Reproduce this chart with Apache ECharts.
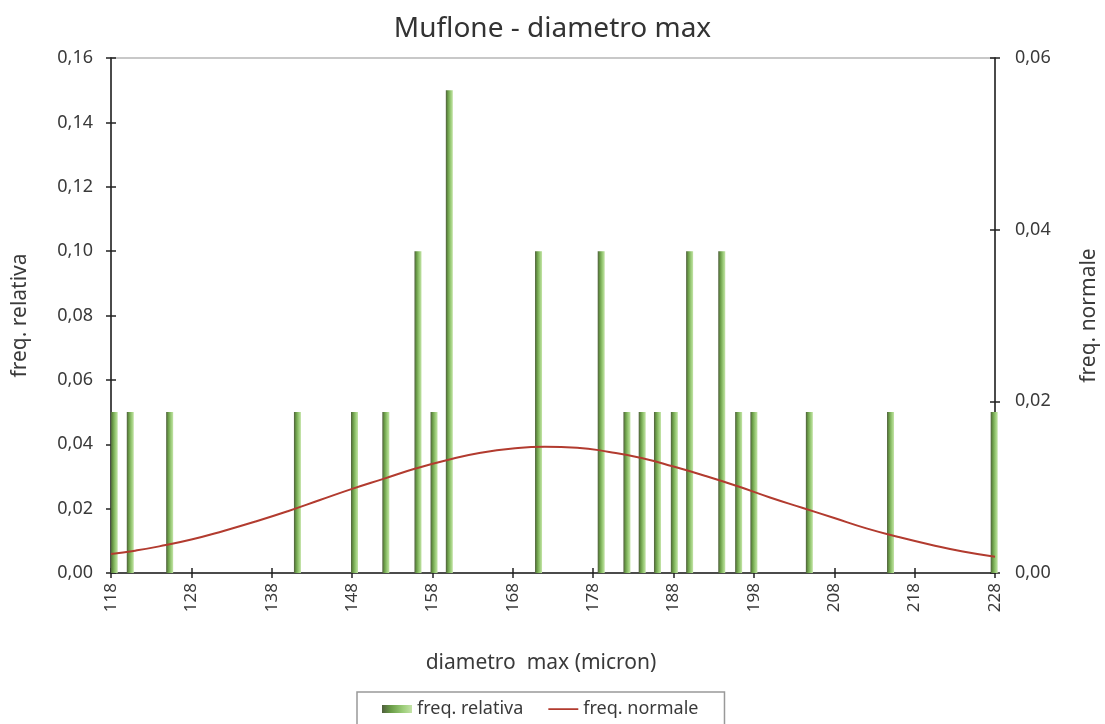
<!DOCTYPE html>
<html><head><meta charset="utf-8">
<script src="https://cdn.jsdelivr.net/npm/echarts@6/dist/echarts.min.js"></script>
<style>html,body{margin:0;padding:0;background:#fff}#c{width:1105px;height:724px}</style>
</head><body><div id="c"></div>
<script>
// bar positions (diameter, micron) and relative frequencies
const diameters = [118.4, 120.4, 125.3, 141.2, 148.3, 152.2, 156.2, 158.2, 160.1, 171.2, 179, 182.2, 184.1, 186, 188.1, 190, 194, 196.1, 198, 204.9, 215, 227.9];
const freqRelativa = [0.05, 0.05, 0.05, 0.05, 0.05, 0.05, 0.10, 0.05, 0.15, 0.10, 0.10, 0.05, 0.05, 0.05, 0.05, 0.10, 0.10, 0.05, 0.05, 0.05, 0.05, 0.05];
// normal curve
const curveX = [118, 121, 124, 128, 132, 136, 140, 144, 148, 152, 156, 160, 164, 168, 172, 176, 180, 184, 188, 192, 196, 200, 204, 208, 212, 216, 220, 224, 228];
const freqNormale = [0.0022, 0.0026, 0.0031, 0.0039, 0.0049, 0.0060, 0.0072, 0.0085, 0.0098, 0.0110, 0.0122, 0.0132, 0.0140, 0.0145, 0.0147, 0.0146, 0.0141, 0.0134, 0.0124, 0.0113, 0.0101, 0.0088, 0.0076, 0.0064, 0.0052, 0.0042, 0.0033, 0.0025, 0.0019];
const xTicks = [118, 128, 138, 148, 158, 168, 178, 188, 198, 208, 218, 228];

const FONT = 'Noto Sans';
const TXT = '#3a3a3a';
const fmt = v => v.toFixed(2).replace('.', ',');
const chart = echarts.init(document.getElementById('c'));
const barColor = new echarts.graphic.LinearGradient(0, 0, 1, 0, [
  {offset: 0, color: '#4f5e3c'},
  {offset: 0.3, color: '#6a9c47'},
  {offset: 0.7, color: '#9ccd79'},
  {offset: 1, color: '#c4e3a8'}
]);
const lineIcon = 'path://M0,3.2h30v1.8h-30z M0,0h0.01v0.01h-0.01z M0,8h0.01v0.01h-0.01z';
const axisLine = {lineStyle: {color: '#222', width: 1.5}};
const tickStyle = {color: '#222', width: 1.5};
chart.setOption({
  animation: false,
  backgroundColor: '#fff',
  textStyle: {fontFamily: FONT},
  title: {
    text: 'Muflone - diametro max', left: 'center', top: 10,
    textStyle: {fontFamily: FONT, fontSize: 28, fontWeight: 'normal', color: '#333'},
    padding: [5, 15, 5, 5]
  },
  grid: {left: 111, right: 110, top: 58, bottom: 151, outerBoundsMode: 'none', containLabel: false,
         show: true, borderColor: '#c8c8c8', borderWidth: 2, backgroundColor: 'transparent'},
  legend: {
    top: 692, left: 357,
    padding: [8, 26, 12, 25],
    borderColor: '#999', borderWidth: 1.5, backgroundColor: '#fff',
    itemGap: 25, itemWidth: 30, itemHeight: 8,
    textStyle: {fontFamily: FONT, fontSize: 18, color: TXT},
    data: [{name: 'freq. relativa', icon: 'rect'}, {name: 'freq. normale', icon: lineIcon}]
  },
  xAxis: [{
    type: 'value', min: 118, max: 228,
    name: 'diametro  max (micron)', nameLocation: 'middle', nameGap: 80,
    nameTextStyle: {fontFamily: FONT, fontSize: 21, color: TXT, padding: [0, 24, 0, 0]},
    axisLine: axisLine,
    axisTick: {customValues: xTicks, length: 5, lineStyle: tickStyle},
    axisLabel: {customValues: xTicks, rotate: 90, margin: 10, fontSize: 17, color: TXT, fontFamily: FONT},
    splitLine: {show: false}
  }, {
    type: 'value', min: 118, max: 228, position: 'bottom',
    axisLine: {show: false},
    axisTick: {customValues: xTicks, inside: true, length: 5, lineStyle: tickStyle},
    axisLabel: {show: false}, splitLine: {show: false}
  }],
  yAxis: [{
    type: 'value', min: 0, max: 0.16, interval: 0.02,
    name: 'freq. relativa', nameLocation: 'middle', nameGap: 80, nameRotate: 90,
    nameTextStyle: {fontFamily: FONT, fontSize: 21, color: TXT},
    axisLine: Object.assign({show: true}, axisLine),
    axisTick: {show: true, length: 5, lineStyle: tickStyle},
    axisLabel: {formatter: fmt, fontSize: 18, color: TXT, margin: 18, fontFamily: FONT},
    splitLine: {show: false}
  }, {
    type: 'value', min: 0, max: 0.06, interval: 0.02, position: 'right',
    name: 'freq. normale', nameLocation: 'middle', nameGap: 84, nameRotate: 90,
    nameTextStyle: {fontFamily: FONT, fontSize: 21, color: TXT},
    axisLine: Object.assign({show: true}, axisLine),
    axisTick: {show: true, length: 5, lineStyle: tickStyle},
    axisLabel: {formatter: fmt, fontSize: 18, color: TXT, margin: 20, fontFamily: FONT},
    splitLine: {show: false}
  }, {
    type: 'value', min: 0, max: 0.16, interval: 0.02, position: 'left',
    axisLine: {show: false}, axisTick: {show: true, inside: true, length: 5, lineStyle: tickStyle},
    axisLabel: {show: false}, splitLine: {show: false}
  }, {
    type: 'value', min: 0, max: 0.06, interval: 0.02, position: 'right',
    axisLine: {show: false}, axisTick: {show: true, inside: true, length: 5, lineStyle: tickStyle},
    axisLabel: {show: false}, splitLine: {show: false}
  }],
  series: [{
    name: 'freq. relativa', type: 'bar', yAxisIndex: 0, barWidth: 7,
    itemStyle: {color: barColor},
    data: diameters.map((d, i) => [d, freqRelativa[i]])
  }, {
    name: 'freq. normale', type: 'line', yAxisIndex: 1, smooth: 0.5, symbol: 'none',
    lineStyle: {color: '#b23b2f', width: 2},
    itemStyle: {color: '#b23b2f'},
    data: curveX.map((x, i) => [x, freqNormale[i]])
  }]
});
</script></body></html>
